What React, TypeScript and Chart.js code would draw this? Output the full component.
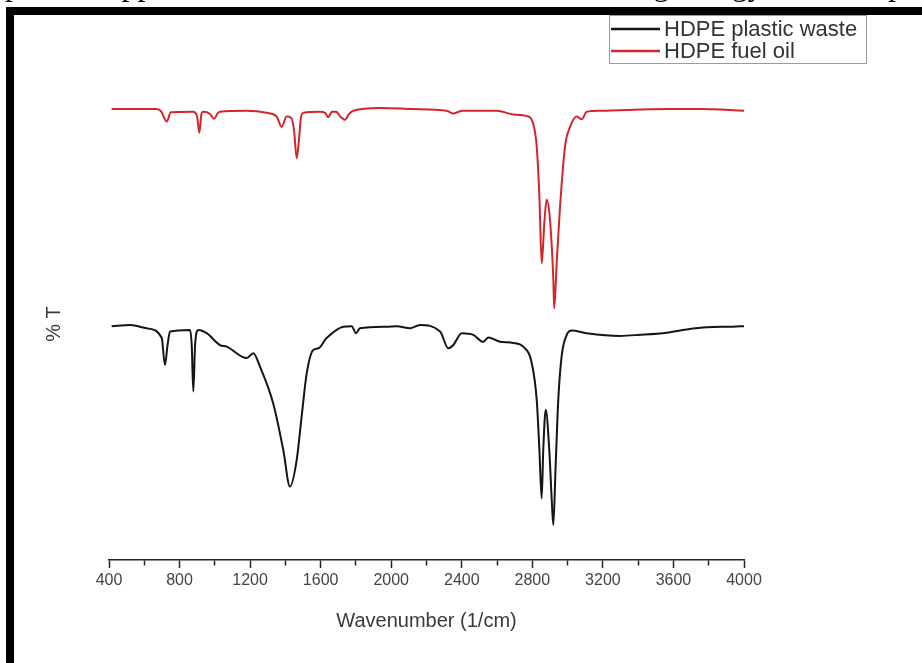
import React, { useEffect, useRef } from "react";
import { Chart, registerables } from "chart.js";

Chart.register(...registerables);

// HDPE plastic waste spectrum (wavenumber, %T)
const wasteWavenumbers = [415, 519, 614, 699, 717, 732, 746, 859, 869, 878, 888, 906, 954, 1029, 1067, 1181, 1218, 1256, 1331, 1388, 1426, 1464, 1492, 1521, 1558, 1587, 1634, 1728, 1776, 1800, 1823, 1974, 2031, 2106, 2163, 2277, 2324, 2352, 2400, 2465, 2522, 2550, 2617, 2692, 2749, 2797, 2825, 2840, 2853, 2862, 2876, 2896, 2910, 2919, 2932, 2947, 2966, 2995, 3023, 3108, 3297, 3410, 3562, 3675, 3789, 3939, 4000];
const wasteT = [43.3, 43.5, 42.9, 41.1, 36.1, 39.8, 42.3, 42.6, 39.8, 31.2, 39.8, 42.6, 42.0, 39.8, 39.5, 37.4, 38.3, 35.8, 29.0, 20.4, 13.6, 18.5, 26.5, 34.6, 38.9, 39.2, 41.1, 43.2, 43.3, 42.0, 42.9, 43.2, 43.3, 42.9, 43.5, 42.3, 39.2, 39.8, 42.0, 41.7, 40.4, 41.2, 40.4, 40.2, 39.5, 36.4, 29.6, 20.4, 11.4, 20.4, 27.8, 20.4, 11.1, 6.5, 17.3, 29.6, 37.7, 41.7, 42.5, 42.0, 41.5, 41.7, 42.1, 42.7, 43.1, 43.2, 43.3];

// HDPE fuel oil spectrum (wavenumber, %T)
const oilWavenumbers = [415, 670, 695, 727, 751, 876, 899, 912, 924, 933, 973, 995, 1018, 1029, 1181, 1294, 1351, 1379, 1407, 1432, 1449, 1464, 1477, 1488, 1502, 1596, 1625, 1643, 1664, 1687, 1715, 1738, 1761, 1785, 1936, 2125, 2314, 2352, 2407, 2598, 2692, 2768, 2804, 2825, 2840, 2853, 2868, 2881, 2900, 2919, 2924, 2938, 2957, 2985, 3014, 3052, 3080, 3108, 3184, 3562, 3751, 4000];
const oilT = [83.5, 83.5, 83.1, 81.2, 82.9, 83.0, 82.2, 79.1, 82.6, 83.0, 82.6, 81.7, 82.8, 83.0, 83.2, 82.8, 82.1, 80.2, 82.1, 81.9, 79.6, 74.4, 77.8, 81.9, 82.8, 83.0, 82.8, 82.0, 83.0, 83.0, 82.0, 81.5, 82.6, 83.2, 83.7, 83.5, 83.2, 82.7, 83.2, 83.2, 82.5, 82.2, 80.9, 76.5, 67.3, 54.9, 62.4, 66.7, 63.0, 51.9, 46.6, 55.0, 65.4, 76.5, 80.2, 82.1, 81.6, 83.0, 83.2, 83.5, 83.5, 83.2];

const seriesLabels = ["HDPE plastic waste", "HDPE fuel oil"];
const xMin = 400;
const xMax = 4000;
const xStep = 200;
const xLabelStep = 400;
const xTitle = "Wavenumber (1/cm)";
const yTitle = "% T";
const topText = "plained application in different industries, including energy and transport";

const FONT = "'Liberation Sans', Arial, Helvetica, sans-serif";

const boxLegend = {
  id: "boxLegend",
  afterDraw(chart: any) {
    const ctx = chart.ctx;
    ctx.save();
    const x0 = 609, y0 = 15, w = 257, h = 48;
    ctx.strokeStyle = "#9a9a9a";
    ctx.lineWidth = 1;
    ctx.strokeRect(x0 + 0.5, y0 + 0.5, w, h);
    ctx.font = `22px ${FONT}`;
    ctx.textBaseline = "middle";
    chart.data.datasets.forEach((ds: any, i: number) => {
      const y = 29 + i * 22;
      ctx.strokeStyle = ds.borderColor;
      ctx.lineWidth = 2.5;
      ctx.beginPath();
      ctx.moveTo(611, y);
      ctx.lineTo(660, y);
      ctx.stroke();
      ctx.fillStyle = "#333";
      ctx.fillText(ds.label, 664, y + 1);
    });
    ctx.restore();
  },
};

export default function App() {
  const ref = useRef<HTMLCanvasElement | null>(null);

  useEffect(() => {
    if (!ref.current) return;
    const chart = new Chart(ref.current, {
      type: "line",
      data: {
        datasets: [
          {
            label: seriesLabels[0],
            data: wasteWavenumbers.map((x, i) => ({ x, y: wasteT[i] })),
            borderColor: "#151515",
            borderWidth: 2,
            pointRadius: 0,
            cubicInterpolationMode: "monotone",
            fill: false,
          },
          {
            label: seriesLabels[1],
            data: oilWavenumbers.map((x, i) => ({ x, y: oilT[i] })),
            borderColor: "#d2262c",
            borderWidth: 2,
            pointRadius: 0,
            cubicInterpolationMode: "monotone",
            fill: false,
          },
        ],
      },
      options: {
        animation: false,
        responsive: false,
        devicePixelRatio: 1,
        layout: { padding: { left: 30, right: 178, top: 88, bottom: 0 } },
        plugins: {
          legend: { display: false },
          tooltip: { enabled: false },
        },
        scales: {
          x: {
            type: "linear",
            min: xMin,
            max: xMax,
            afterFit: (s: any) => {
              s.height = 103;
            },
            ticks: {
              stepSize: xStep,
              autoSkip: false,
              maxRotation: 0,
              padding: 3,
              color: "#444",
              font: { family: FONT, size: 16 },
              callback: (v: any) => (Number(v) % xLabelStep === 0 ? String(v) : ""),
            },
            grid: {
              drawOnChartArea: false,
              drawTicks: true,
              tickLength: 8,
              tickColor: "#222",
              tickWidth: 1.5,
              tickBorderDash: (c: any) =>
                c.tick && c.tick.value % xLabelStep !== 0 ? [5, 30] : [],
            },
            border: { display: true, color: "#222", width: 1.5 },
            title: {
              display: true,
              text: xTitle,
              color: "#3a3a3a",
              font: { family: FONT, size: 20 },
              padding: { top: 0, bottom: 30 },
            },
          },
          y: {
            min: 0,
            max: 87.4,
            afterFit: (s: any) => {
              s.width = 79;
            },
            ticks: { display: false },
            grid: { display: false },
            border: { display: false },
            title: {
              display: true,
              text: yTitle,
              color: "#3a3a3a",
              font: { family: FONT, size: 20 },
              padding: { top: 12, bottom: 0 },
            },
          },
        },
      },
      plugins: [boxLegend],
    } as any);
    return () => chart.destroy();
  }, []);

  return (
    <div
      style={{
        position: "fixed",
        left: 0,
        top: 0,
        width: 922,
        height: 663,
        background: "#fff",
        overflow: "hidden",
      }}
    >
      <canvas
        ref={ref}
        width={922}
        height={663}
        style={{ position: "absolute", left: 0, top: 0, width: 922, height: 663 }}
      />
      <div
        style={{
          position: "absolute",
          left: 5,
          top: -32,
          fontFamily: "'Liberation Serif', 'Times New Roman', serif",
          fontSize: 32,
          lineHeight: "32px",
          whiteSpace: "nowrap",
          color: "#000",
        }}
      >
        {topText}
      </div>
      <div style={{ position: "absolute", left: 6, top: 7, width: 916, height: 8, background: "#000" }} />
      <div style={{ position: "absolute", left: 6, top: 7, width: 8, height: 656, background: "#000" }} />
    </div>
  );
}
